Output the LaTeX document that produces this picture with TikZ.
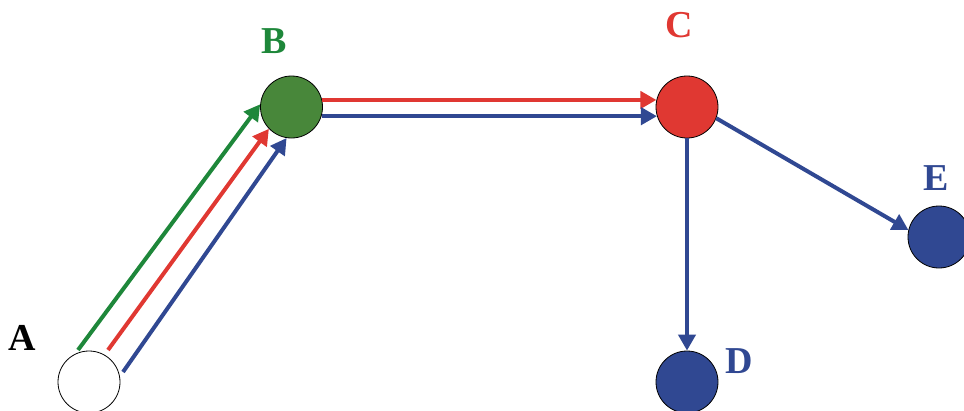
\documentclass[tikz,border=0pt]{standalone}
\usepackage{fontspec}
\setmainfont{Liberation Serif}
\usetikzlibrary{arrows.meta}
\definecolor{gline}{RGB}{30,135,58}
\definecolor{gfill}{RGB}{72,135,58}
\definecolor{rline}{RGB}{224,56,50}
\definecolor{bline}{RGB}{48,72,146}
\tikzset{
  vert/.style={circle,draw=black,line width=0.8pt,minimum size=62pt,inner sep=0pt},
  lab/.style={font=\fontsize{38}{40}\selectfont\bfseries,inner sep=0pt},
  arr/.style={line width=4pt,-{Triangle[length=16pt,width=17pt]}},
}
\begin{document}
\begin{tikzpicture}[x=1pt,y=-1pt]
\useasboundingbox (0,0) rectangle (964,410);
\node[vert,fill=white] (A) at (89,382) {};
\node[vert,fill=gfill] (B) at (291.5,107) {};
\node[vert,fill=rline] (C) at (687,107) {};
\node[vert,fill=bline] (D) at (687,382) {};
\node[vert,fill=bline] (E) at (939,237) {};
\node[lab,text=black] (lA) at (22.5,338) {A};
\node[lab,text=gline] (lB) at (274,41.5) {B};
\node[lab,text=rline] (lC) at (679,25) {C};
\node[lab,text=bline] (lD) at (739.5,361) {D};
\node[lab,text=bline] (lE) at (936,178) {E};
\coordinate (gA) at (78,350);
\coordinate (rA) at (108,350);
\coordinate (bA) at (123,372);
\draw[arr,gline] (gA) -- (B.175);
\draw[arr,rline] (rA) -- (B.224);
\draw[arr,bline] (bA) -- (B.261);
\draw[arr,rline] (B.13) -- (C.167);
\draw[arr,bline] (B.-17) -- (C.197);
\draw[arr,bline] (C.south) -- (D.north);
\draw[arr,bline] (C.-21) -- (E.167);
\end{tikzpicture}
\end{document}
